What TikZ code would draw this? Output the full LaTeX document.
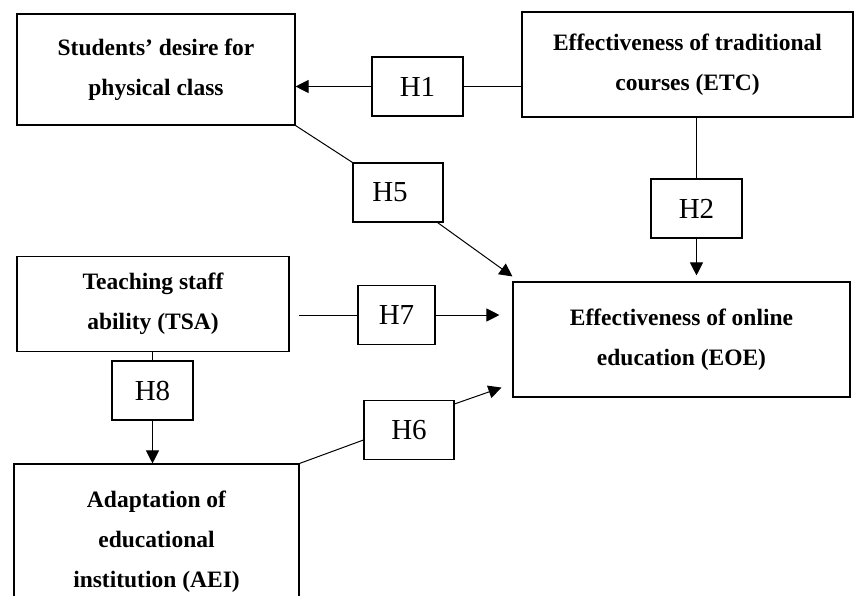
\documentclass[tikz,border=0pt]{standalone}
\usepackage{fontspec}
\setmainfont{Liberation Serif}
\usetikzlibrary{arrows.meta}
\tikzset{
  factor/.style={draw, line width=1.1pt, align=center, inner sep=0pt,
    font=\fontsize{23.5}{40}\selectfont\bfseries},
  hyp/.style={draw, line width=1.1pt, minimum width=#1, minimum height=59pt,
    inner sep=0pt, font=\fontsize{29}{30}\selectfont},
  hyp/.default=91pt,
  link/.style={line width=1pt},
  arr/.style={link, -{Triangle[length=13pt,width=13pt]}}
}

\begin{document}
\begin{tikzpicture}[x=1pt, y=-1pt]
\useasboundingbox (0,0) rectangle (854,596);
\clip (0,0) rectangle (854,596);

% constructs
\node[factor, minimum width=278pt, minimum height=111pt] (sdp) at (156,69.5) {Students’ desire for\\physical class};
\node[factor, minimum width=331pt, minimum height=105pt] (etc) at (687.5,64.5) {Effectiveness of traditional\\courses (ETC)};
\node[factor, minimum width=337pt, minimum height=115pt] (eoe) at (681.5,339.5) {Effectiveness of online\\education (EOE)};
\node[factor, minimum width=272pt, minimum height=95pt] (tsa) at (153,304) {Teaching staff\\ability (TSA)};
\node[factor, minimum width=285pt, minimum height=156pt] (aei) at (156.5,542) {Adaptation of\\educational\\institution (AEI)};

% hypotheses
\node[hyp] (h1) at (417.5,86.5) {H1};
\node[hyp] (h2) at (696.5,208.5) {H2};
\node[hyp=90pt] (h5) at (398,192.5) {H5\kern16pt};
\node[hyp=77pt] (h7) at (396.5,315) {H7};
\node[hyp=81pt] (h8) at (152.5,390.5) {H8};
\node[hyp=90pt] (h6) at (409,430) {H6};

% paths
\draw[link] (etc.west |- h1.east) -- (h1.east);
\draw[arr] (h1.west) -- (sdp.east |- h1.west);
\draw[link] (sdp.south east) -- (h5.north west);
\draw[arr] ([xshift=-6pt]h5.south east) -- ([yshift=5pt]eoe.north west);
\draw[link] (h2.north |- etc.south) -- (h2.north);
\draw[arr, shorten >=6pt] (h2.south) -- (h2.south |- eoe.north);
\draw[link, shorten <=9pt] (tsa.east |- h7.west) -- (h7.west);
\draw[arr, shorten >=13pt] (h7.east) -- (eoe.west |- h7.east);
\draw[link] (h8.north |- tsa.south) -- (h8.north);
\draw[arr] (h8.south) -- (h8.south |- aei.north);
\draw[link] (aei.north east) -- ([yshift=-10pt]h6.west);
\draw[arr] ([yshift=-4pt]h6.north east) -- ([xshift=-11pt,yshift=10pt]eoe.south west);
\end{tikzpicture}
\end{document}
